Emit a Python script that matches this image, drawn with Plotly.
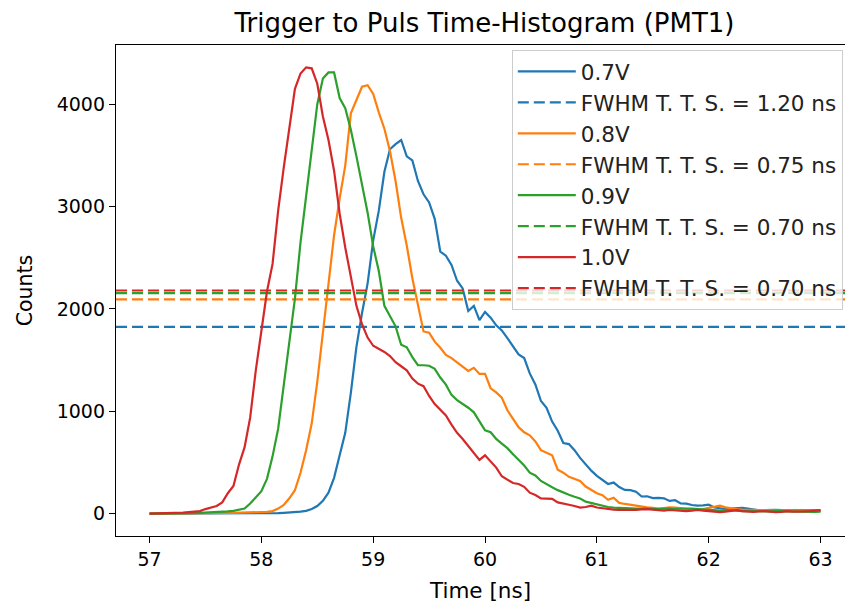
import numpy as np
import plotly.graph_objects as go

# time axis (ns), 0.05 ns bins
time_ns = [round(57 + 0.05 * i, 2) for i in range(121)]

counts_07V = [0, 0, 0, 0, 0, 1, 1, 1, 1, 1, 2, 2, 2, 2, 3, 3, 3, 3, 3, 4, 4, 5,
              5, 5, 8, 10, 13, 20, 28, 45, 75, 125, 205, 350, 570, 790, 1180, 1630, 1960, 2250,
              2670, 2960, 3340, 3560, 3610, 3650, 3490, 3450, 3250, 3120, 3040, 2880, 2560, 2520, 2430, 2275,
              2200, 1980, 2030, 1890, 1970, 1915, 1840, 1790, 1715, 1640, 1556, 1520, 1370, 1262, 1100,
              1035, 900, 810, 690, 680, 620, 545, 480, 420, 370, 330, 290, 304, 260, 232, 230, 215, 168,
              170, 152, 155, 150, 125, 132, 101, 98, 85, 78, 82, 88, 60, 52, 46, 50, 55, 58, 50, 40, 33,
              36, 40, 38, 36, 36, 36, 34, 32, 33, 32, 32]

counts_08V = [0, 0, 0, 0, 1, 1, 2, 2, 3, 3, 4, 5, 5, 6, 7, 8, 9, 10, 12, 14, 16, 18,
              25, 50, 85, 150, 230, 400, 620, 880, 1290, 1750, 2240, 2720, 3080, 3400, 3910, 4040, 4170, 4185,
              4100, 3920, 3760, 3540, 3250, 2890, 2620, 2300, 2040, 1780, 1768, 1680, 1620, 1550, 1520, 1480,
              1435, 1395, 1425, 1365, 1366, 1225, 1185, 1133, 1010, 925, 845, 795, 765, 706, 620,
              595, 570, 430, 400, 360, 340, 320, 265, 230, 199, 180, 136, 155, 105, 95, 85, 78, 68,
              62, 58, 48, 55, 62, 60, 58, 50, 45, 38, 45, 55, 68, 78, 62, 50, 45, 40, 36, 38, 36,
              34, 30, 28, 30, 28, 26, 27, 25, 26, 27, 26]

counts_09V = [0, 0, 2, 2, 3, 3, 4, 5, 6, 8, 10, 12, 15, 18, 22, 28, 38, 50, 100, 160, 220, 340,
              560, 830, 1250, 1690, 2100, 2650, 3100, 3500, 4000, 4250, 4310, 4310, 4060, 3960, 3750, 3490, 3230, 2940,
              2610, 2370, 2030, 1925, 1830, 1650, 1625, 1530, 1450, 1450, 1445, 1415, 1330, 1260, 1160, 1110,
              1075, 1035, 990, 900, 815, 795, 730, 685, 640, 580, 525, 470, 400, 373, 320,
              285, 258, 230, 205, 185, 165, 148, 118, 105, 85, 75, 65, 60, 55, 52, 52, 50, 52,
              50, 48, 50, 52, 50, 48, 45, 48, 50, 45, 40, 38, 35, 30, 32, 35, 30, 25, 28, 30, 25,
              22, 25, 28, 25, 22, 20, 25, 22, 20, 18, 20]

counts_10V = [0, 1, 3, 4, 5, 7, 10, 15, 20, 25, 45, 60, 75, 110, 200, 270, 480, 650, 940, 1400, 1800, 2170,
              2440, 2960, 3380, 3770, 4150, 4300, 4360, 4350, 4200, 3880, 3650, 3350, 2930, 2600, 2300, 2030, 1850, 1720,
              1640, 1610, 1580, 1540, 1480, 1440, 1400, 1320, 1270, 1245, 1150, 1070, 1010, 960, 870, 790,
              730, 665, 600, 525, 570, 505, 450, 365, 335, 300, 290, 262, 205, 183, 150,
              150, 145, 110, 95, 87, 75, 60, 65, 78, 60, 52, 45, 40, 38, 36, 40, 38, 42,
              45, 40, 35, 30, 38, 35, 28, 25, 30, 38, 30, 25, 20, 15, 20, 28, 35, 25, 20, 18, 22,
              25, 20, 15, 18, 25, 20, 18, 22, 25, 30, 35]

voltages = ["0.7V", "0.8V", "0.9V", "1.0V"]
fwhm_ns = [1.20, 0.75, 0.70, 0.70]
colors = ["#1f77b4", "#ff7f0e", "#2ca02c", "#d62728"]
series = [counts_07V, counts_08V, counts_09V, counts_10V]

# axis limits (matplotlib-like 5% margins); picture is cropped at the right
x_lo = 57 - 0.05 * 6
x_hi_full = 63 + 0.05 * 6
px_per_ns = 111.83
plot_w = 845 - 116
x_hi_view = x_lo + plot_w / px_per_ns
ymax = max(max(s) for s in series)
y_lo = -0.05 * ymax
y_hi = ymax * 1.05

fig = go.Figure()
for v, w, c, s in zip(voltages, fwhm_ns, colors, series):
    fig.add_trace(go.Scatter(x=time_ns, y=s, mode="lines", name=v,
                             line=dict(color=c, width=2.2)))
    half = max(s) / 2
    fig.add_trace(go.Scatter(x=[x_lo, x_hi_full], y=[half, half], mode="lines",
                             name=f"FWHM T. T. S. = {w:.2f} ns",
                             line=dict(color=c, width=2.2, dash="11px,5px")))

font_family = "DejaVu Sans"
fig.update_layout(
    width=845, height=604,
    margin=dict(l=116, r=0, t=45, b=68),
    paper_bgcolor="white", plot_bgcolor="white",
    font=dict(family=font_family, color="black", size=19),
    title=dict(text="Trigger to Puls Time-Histogram (PMT1)", x=(484.5 - 116) / 729, xref="paper",
               xanchor="center", y=1 - 23 / 604, yref="container", yanchor="middle",
               font=dict(size=26, family=font_family, color="black")),
    showlegend=True,
    legend=dict(x=0.997, xanchor="right", y=0.99, yanchor="top",
                bgcolor="rgba(255,255,255,0.8)", bordercolor="#cccccc", borderwidth=1,
                font=dict(size=21.5, family=font_family, color="#222222"),
                itemwidth=58, tracegroupgap=0),
)
fig.update_xaxes(range=[x_lo, x_hi_view], tickvals=[57, 58, 59, 60, 61, 62, 63],
                 ticktext=["57", "58", "59", "60", "61", "62", "63"],
                 showline=True, linecolor="black", linewidth=1.3, mirror=True,
                 ticks="outside", ticklen=6, tickwidth=1.3, tickcolor="black",
                 showgrid=False, zeroline=False,
                 title=dict(text="Time [ns]", font=dict(size=21.5), standoff=13),
                 tickfont=dict(size=19))
fig.update_yaxes(range=[y_lo, y_hi], tickvals=[0, 1000, 2000, 3000, 4000],
                 showline=True, linecolor="black", linewidth=1.3,
                 ticks="outside", ticklen=6, tickwidth=1.3, tickcolor="black",
                 showgrid=False, zeroline=False,
                 title=dict(text="Counts", font=dict(size=20.5), standoff=18),
                 tickfont=dict(size=19))

fig.write_html("out.html")
